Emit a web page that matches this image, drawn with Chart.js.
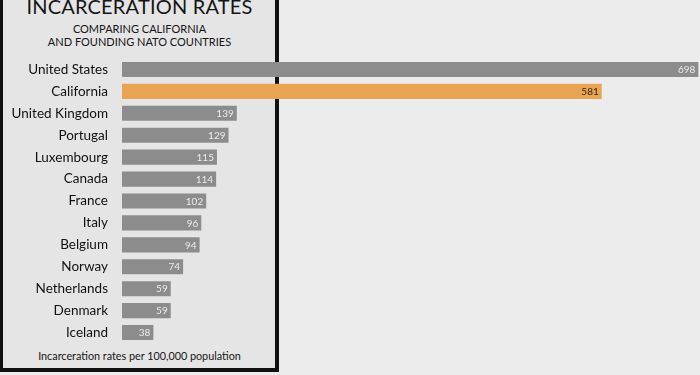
<!DOCTYPE html>
<html>
<head>
<meta charset="utf-8">
<script src="https://cdn.jsdelivr.net/npm/chart.js@4"></script>
<style>
    body { margin: 0; background: #ececec; font-family: Lato, "Open Sans", sans-serif; }
    #wrap { position: relative; width: 700px; height: 375px; overflow: hidden; }
    #panel {
        position: absolute; left: 0; top: -20px;
        width: 279px; height: 392px; box-sizing: border-box;
        border: 4px solid #111; border-left-width: 3px; background: #e5e5e5;
    }
    .txt { position: absolute; left: 0; width: 279px; text-align: center; color: #151515; white-space: nowrap; }
    #title { top: -5px; font-size: 20px; line-height: 22px; letter-spacing: 0.2px; }
    #sub { top: 22px; font-size: 11px; line-height: 13px; }
    #foot { top: 349px; font-size: 10.8px; line-height: 13px; }
    canvas { position: absolute; left: 0; top: 0; }
</style>
</head>
<body>
<div id="wrap">
    <div id="panel"></div>
    <div class="txt" id="title">INCARCERATION RATES</div>
    <div class="txt" id="sub">COMPARING CALIFORNIA<br>AND FOUNDING NATO COUNTRIES</div>
    <div class="txt" id="foot">Incarceration rates per 100,000 population</div>
    <canvas id="rateChart" width="700" height="375"></canvas>
</div>
<script>
const countries = ['United States', 'California', 'United Kingdom', 'Portugal', 'Luxembourg', 'Canada',
    'France', 'Italy', 'Belgium', 'Norway', 'Netherlands', 'Denmark', 'Iceland'];
const rates = [698, 581, 139, 129, 115, 114, 102, 96, 94, 74, 59, 59, 38];
const highlight = 'California';

const GREY = '#8c8c8c';
const ORANGE = '#e8a452';

// value labels drawn inside the end of each bar
const valueLabels = {
    id: 'valueLabels',
    afterDatasetsDraw(chart) {
        const ctx = chart.ctx;
        const meta = chart.getDatasetMeta(0);
        ctx.save();
        ctx.font = '10px Lato';
        ctx.textAlign = 'right';
        ctx.textBaseline = 'middle';
        meta.data.forEach((bar, i) => {
            ctx.fillStyle = countries[i] === highlight ? '#3a2a10' : '#ececec';
            ctx.fillText(rates[i], bar.x - 3, bar.y + 0.5);
        });
        ctx.restore();
    }
};

new Chart(document.getElementById('rateChart'), {
    type: 'bar',
    data: {
        labels: countries,
        datasets: [{
            data: rates,
            backgroundColor: countries.map(c => c === highlight ? ORANGE : GREY),
            borderWidth: 0,
            barPercentage: 0.69,
            categoryPercentage: 1
        }]
    },
    options: {
        indexAxis: 'y',
        responsive: false,
        animation: false,
        layout: { padding: { top: 58.5, bottom: 31.5, left: 0, right: 0 } },
        plugins: { legend: { display: false }, tooltip: { enabled: false } },
        scales: {
            x: { display: false, min: 0, max: 700 },
            y: {
                grid: { display: false },
                border: { display: false },
                ticks: { color: '#111', font: { family: 'Lato', size: 13.5 }, padding: 6 },
                afterFit(scale) { scale.width = 122; }
            }
        }
    },
    plugins: [valueLabels]
});
</script>
</body>
</html>
